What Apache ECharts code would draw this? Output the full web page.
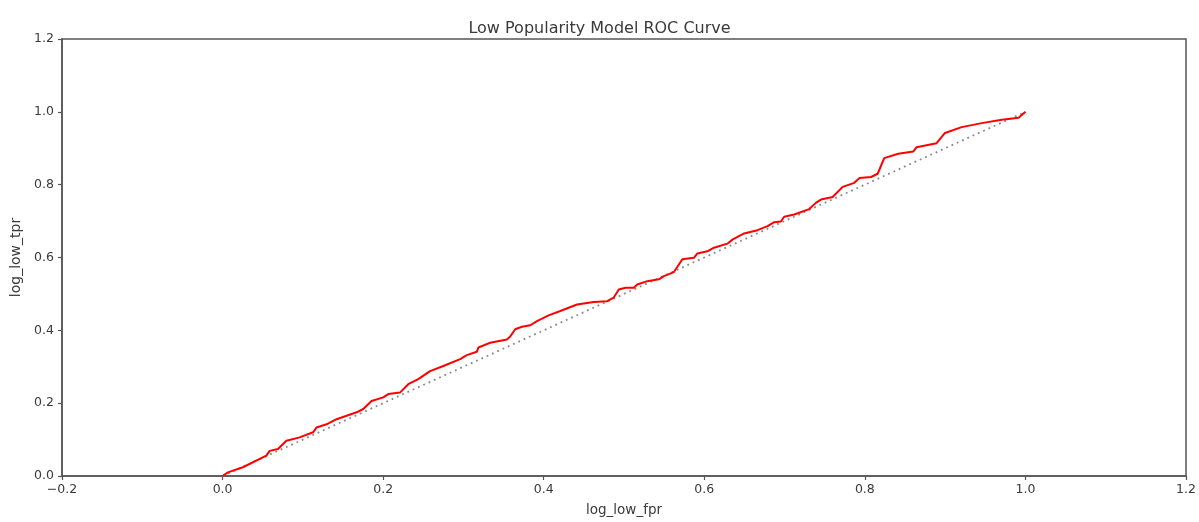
<!DOCTYPE html>
<html>
<head>
<meta charset="utf-8">
<script src="https://cdn.jsdelivr.net/npm/echarts@6/dist/echarts.min.js"></script>
<style>
  html, body { margin: 0; padding: 0; background: #fff; }
  #chart { width: 1199px; height: 522px; }
</style>
</head>
<body>
<div id="chart"></div>
<script>
    // ROC points (fpr, tpr)
    var fpr = [0, 0.0066, 0.0253, 0.0545, 0.0587, 0.069, 0.0795, 0.0961, 0.1127, 0.117, 0.1295, 0.142,
        0.167, 0.1752, 0.1856, 0.2001, 0.2064, 0.221, 0.2313, 0.2438, 0.2584, 0.275, 0.2959, 0.3042,
        0.3167, 0.3187, 0.3333, 0.3542, 0.3583, 0.3645, 0.3729, 0.3833, 0.3916, 0.4061, 0.4207, 0.4415,
        0.4623, 0.479, 0.4873, 0.4935, 0.5019, 0.5122, 0.5165, 0.529, 0.5434, 0.5497, 0.5622, 0.5727,
        0.5871, 0.5914, 0.6039, 0.6121, 0.6288, 0.6351, 0.6496, 0.6663, 0.6788, 0.6871, 0.6954, 0.6995,
        0.712, 0.7307, 0.739, 0.7453, 0.7599, 0.7724, 0.7869, 0.7931, 0.8077, 0.816, 0.8241, 0.8416,
        0.8603, 0.8644, 0.8894, 0.8998, 0.9206, 0.9456, 0.9706, 0.9915, 1.0];
    var tpr = [0, 0.010, 0.024, 0.056, 0.069, 0.074, 0.097, 0.106, 0.120, 0.133, 0.142, 0.156,
        0.175, 0.184, 0.206, 0.216, 0.225, 0.229, 0.252, 0.266, 0.288, 0.302, 0.321, 0.332,
        0.341, 0.353, 0.366, 0.375, 0.383, 0.403, 0.410, 0.414, 0.425, 0.441, 0.453, 0.471,
        0.478, 0.480, 0.490, 0.512, 0.517, 0.517, 0.526, 0.535, 0.540, 0.549, 0.560, 0.595,
        0.599, 0.611, 0.617, 0.627, 0.638, 0.649, 0.666, 0.675, 0.686, 0.697, 0.699, 0.712,
        0.718, 0.733, 0.750, 0.759, 0.766, 0.794, 0.805, 0.818, 0.821, 0.830, 0.873, 0.885,
        0.891, 0.903, 0.914, 0.942, 0.958, 0.969, 0.978, 0.984, 1.0];
    var diagX = [0, 1];
    var diagY = [0, 1];

    var rocData = [], diagData = [];
    for (var i = 0; i < fpr.length; i++) {
        rocData.push([fpr[i], tpr[i]]);
    }
    for (var j = 0; j < diagX.length; j++) {
        diagData.push([diagX[j], diagY[j]]);
    }

    var font = 'DejaVu Sans';
    var textColor = '#3a3a3a';
    var axisColor = '#555';
    var tickFmt = function (v) {
        return v.toFixed(1).replace('-', '\u2212');
    };

    var myChart = echarts.init(document.getElementById('chart'));
    var option = {
        animation: false,
        backgroundColor: '#fff',
        title: {
            text: 'Low Popularity Model ROC Curve',
            left: 'center',
            top: 16,
            textStyle: { fontFamily: font, fontSize: 16, fontWeight: 'normal', color: textColor }
        },
        grid: {
            left: 62, right: 13, top: 39, bottom: 45,
            show: true, borderColor: axisColor, borderWidth: 1.5
        },
        xAxis: {
            type: 'value',
            min: -0.2, max: 1.2, interval: 0.2,
            name: 'log_low_fpr',
            nameLocation: 'middle',
            nameGap: 27,
            nameTextStyle: { fontFamily: font, fontSize: 13.5, color: textColor },
            axisLine: { onZero: false, lineStyle: { color: axisColor, width: 1.5 } },
            axisTick: { inside: false, length: 4, lineStyle: { color: axisColor, width: 1.2 } },
            axisLabel: { formatter: tickFmt, fontFamily: font, fontSize: 12.5, color: textColor, margin: 7 },
            splitLine: { show: false }
        },
        yAxis: {
            type: 'value',
            min: 0, max: 1.2, interval: 0.2,
            name: 'log_low_tpr',
            nameLocation: 'middle',
            nameGap: 36,
            nameTextStyle: { fontFamily: font, fontSize: 14, color: textColor },
            axisLine: { show: true, onZero: false, lineStyle: { color: axisColor, width: 1.5 } },
            axisTick: { show: true, length: 4, lineStyle: { color: axisColor, width: 1.2 } },
            axisLabel: { formatter: tickFmt, fontFamily: font, fontSize: 12.5, color: textColor, margin: 8 },
            splitLine: { show: false }
        },
        series: [{
            name: 'diag',
            type: 'line',
            data: diagData,
            symbol: 'none',
            lineStyle: { color: '#888', width: 1.8, type: [1.8, 4] },
            z: 1
        }, {
            name: 'roc',
            type: 'line',
            data: rocData,
            symbol: 'none',
            lineStyle: { color: '#ff0000', width: 2 },
            z: 2
        }]
    };
    myChart.setOption(option);
</script>
</body>
</html>
